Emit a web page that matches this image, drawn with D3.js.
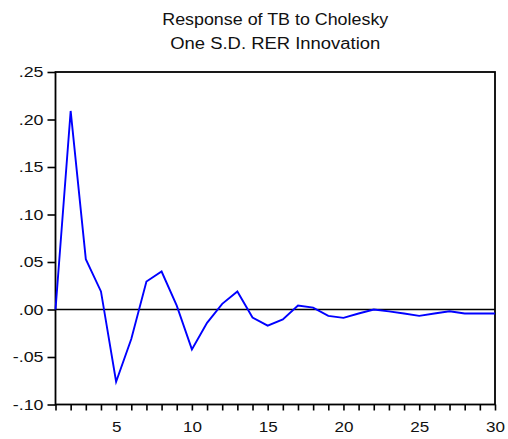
<!DOCTYPE html>
<html><head><meta charset="utf-8">
<script src="https://cdn.jsdelivr.net/npm/d3@7"></script>
<style>
body{margin:0;background:#fff;}
svg{display:block;font-family:"Liberation Sans",Arial,sans-serif;}
</style></head>
<body>
<svg id="c" width="508" height="439"></svg>
<script>
const periods = d3.range(1, 31);
const response = [0.000, 0.209, 0.053, 0.019, -0.076, -0.031, 0.0295, 0.040, 0.004, -0.042,
  -0.014, 0.006, 0.019, -0.0085, -0.017, -0.0105, 0.0042, 0.002, -0.0067, -0.0088,
  -0.0042, 0.000, -0.002, -0.0042, -0.0067, -0.0042, -0.0018, -0.0042, -0.0042, -0.0042];
const yTicks = [0.25, 0.20, 0.15, 0.10, 0.05, 0.00, -0.05, -0.10];
const xLabelTicks = [5, 10, 15, 20, 25, 30];
const titleLines = ["Response of TB to Cholesky", "One S.D. RER Innovation"];
const titleWidths = [226, 210];

const svg = d3.select("#c");
const L = 55.5, R = 495, T = 72, B = 404.5;
const x = d3.scaleLinear().domain([1, 30]).range([L, R]);
const y = d3.scaleLinear().domain([-0.10, 0.25]).range([B, T]);

const fmt = v => {
  const s = d3.format(".2f")(Math.abs(v)).replace(/^0/, "");
  return (v < -1e-9 ? "-" : "") + s;
};

// title
svg.append("g").selectAll("text").data(titleLines).join("text")
  .attr("x", (L + R) / 2).attr("y", (d, i) => 24.5 + i * 24)
  .attr("text-anchor", "middle").attr("font-size", 16).attr("fill", "#111")
  .attr("textLength", (d, i) => titleWidths[i]).attr("lengthAdjust", "spacingAndGlyphs")
  .text(d => d);

function widen(sel, k) {
  sel.each(function () {
    const w = this.getComputedTextLength();
    if (w > 0) d3.select(this).attr("textLength", w * k).attr("lengthAdjust", "spacingAndGlyphs");
  });
}

// y axis
const ya = svg.append("g").attr("transform", `translate(${L},0)`)
  .call(d3.axisLeft(y).tickValues(yTicks).tickFormat(fmt).tickSize(8).tickPadding(4));
ya.select(".domain").remove();
ya.selectAll("line").attr("stroke", "#000").attr("stroke-width", 1.6);
ya.selectAll("text").attr("font-size", 15.5).attr("fill", "#111").attr("font-family", "Liberation Sans, Arial, sans-serif");
widen(ya.selectAll("text"), 1.15);

// x axis ticks
const xa = svg.append("g").attr("transform", `translate(0,${B})`)
  .call(d3.axisBottom(x).tickValues(periods).tickFormat(d => xLabelTicks.includes(d) ? d : "").tickSize(6).tickPadding(10.5));
xa.select(".domain").remove();
xa.selectAll("line").attr("stroke", "#000").attr("stroke-width", 1.6);
xa.selectAll("text").attr("font-size", 15.5).attr("fill", "#111").attr("font-family", "Liberation Sans, Arial, sans-serif");
widen(xa.selectAll("text"), 1.1);

// frame
svg.append("rect").attr("x", L).attr("y", T).attr("width", R - L).attr("height", B - T)
  .attr("fill", "none").attr("stroke", "#000").attr("stroke-width", 1.8);

// zero line
svg.append("line").attr("x1", L).attr("x2", R).attr("y1", y(0)).attr("y2", y(0))
  .attr("stroke", "#000").attr("stroke-width", 1.4);

// series
const line = d3.line().x((d, i) => x(periods[i])).y(d => y(d));
svg.append("path").datum(response).attr("d", line)
  .attr("fill", "none").attr("stroke", "#0000ff").attr("stroke-width", 1.9);
</script>
</body></html>
